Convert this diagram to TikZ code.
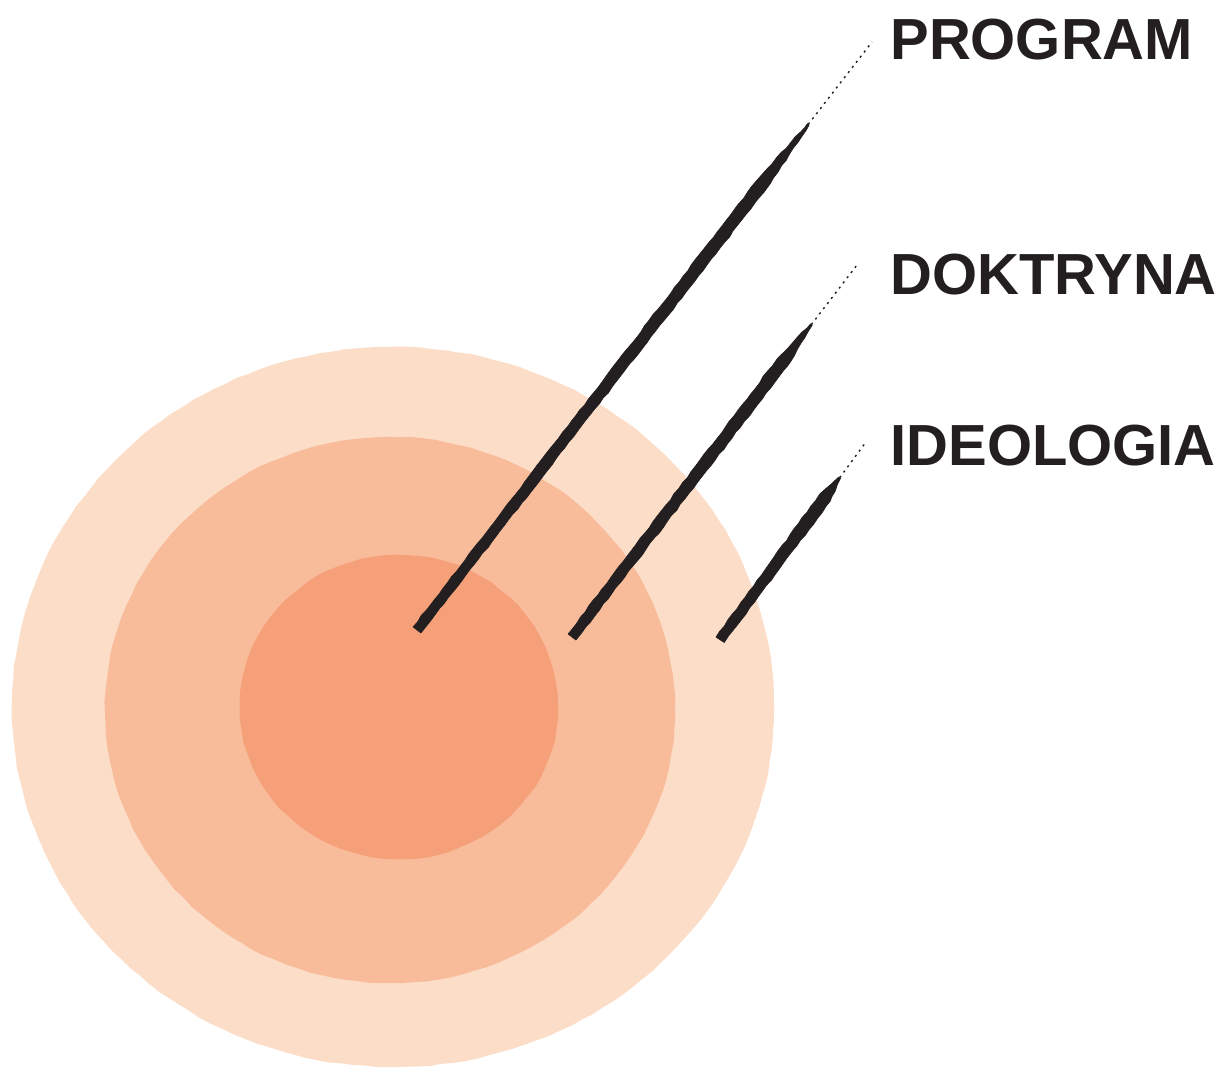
\documentclass[tikz,border=0pt]{standalone}
\usepackage{fontspec}
\setmainfont{Liberation Sans}
\usepackage{tikz}
\usetikzlibrary{calc,decorations.pathmorphing}
\definecolor{ringouter}{RGB}{252,221,200}
\definecolor{ringmiddle}{RGB}{249,188,155}
\definecolor{ringinner}{RGB}{246,160,121}
\definecolor{inkblack}{RGB}{35,31,32}

\tikzset{
    ring/.style={decorate, decoration={random steps, segment length=7pt, amplitude=0.3pt}},
    brush/.style={fill=inkblack, draw=inkblack, line width=0.4pt, line join=round,
        decorate, decoration={random steps, segment length=4pt, amplitude=0.35pt}},
    spray/.style={draw=inkblack, line width=0.8pt, dash pattern=on 1.2pt off 2.5pt},
    tag/.style={anchor=west, inner sep=0pt, text=inkblack, font=\bfseries\fontsize{33}{33}\selectfont}
}

% brush stroke from foot #1 to tip #2, solid up to #3, tapered until #4
\newcommand{\inkline}[4]{
    \coordinate (s1) at ($(#1)!#3!(#2)$);
    \coordinate (s2) at ($(#1)!#4!(#2)$);
    \filldraw[brush] ($(#1)!2.8pt!90:(#2)$) -- ($(s1)!3.6pt!90:(#2)$) -- ($(s2)!0.6pt!90:(#2)$)
        -- ($(s2)!0.6pt!-90:(#2)$) -- ($(s1)!3.6pt!-90:(#2)$) -- ($(#1)!2.8pt!-90:(#2)$) -- cycle;
    \draw[spray] (s2) -- (#2);
}

\begin{document}
\begin{tikzpicture}[x=0.02cm, y=0.02cm]
    \pgfmathsetseed{11}
    \useasboundingbox (0,0) rectangle (1225,1074);

    % Rings
    \fill[ring, ringouter] (393,367) ellipse [x radius=7.62cm, y radius=7.2cm];
    \fill[ring, ringmiddle] (390,364) ellipse [x radius=5.7cm, y radius=5.46cm];
    \fill[ring, ringinner] (399,367) ellipse [x radius=3.18cm, y radius=3.04cm];

    % Labels
    \node[tag] (program) at (890,1034) {PROGRAM};
    \node[tag] (doktryna) at (890,799) {DOKTRYNA};
    \node[tag] (ideologia) at (890,628) {IDEOLOGIA};

    % Stroke ends
    \coordinate (programfoot) at (417,444);
    \coordinate (doktrynafoot) at (572,437);
    \coordinate (ideologiafoot) at (720,434);
    \coordinate (programtip) at ($(program.west)+(-18,-2)$);
    \coordinate (doktrynatip) at ($(doktryna.west)+(-33,10)$);
    \coordinate (ideologiatip) at ($(ideologia.west)+(-24,4)$);

    % Strokes
    \inkline{programfoot}{programtip}{0.76}{0.86}
    \inkline{doktrynafoot}{doktrynatip}{0.74}{0.84}
    \inkline{ideologiafoot}{ideologiatip}{0.72}{0.82}
\end{tikzpicture}
\end{document}
